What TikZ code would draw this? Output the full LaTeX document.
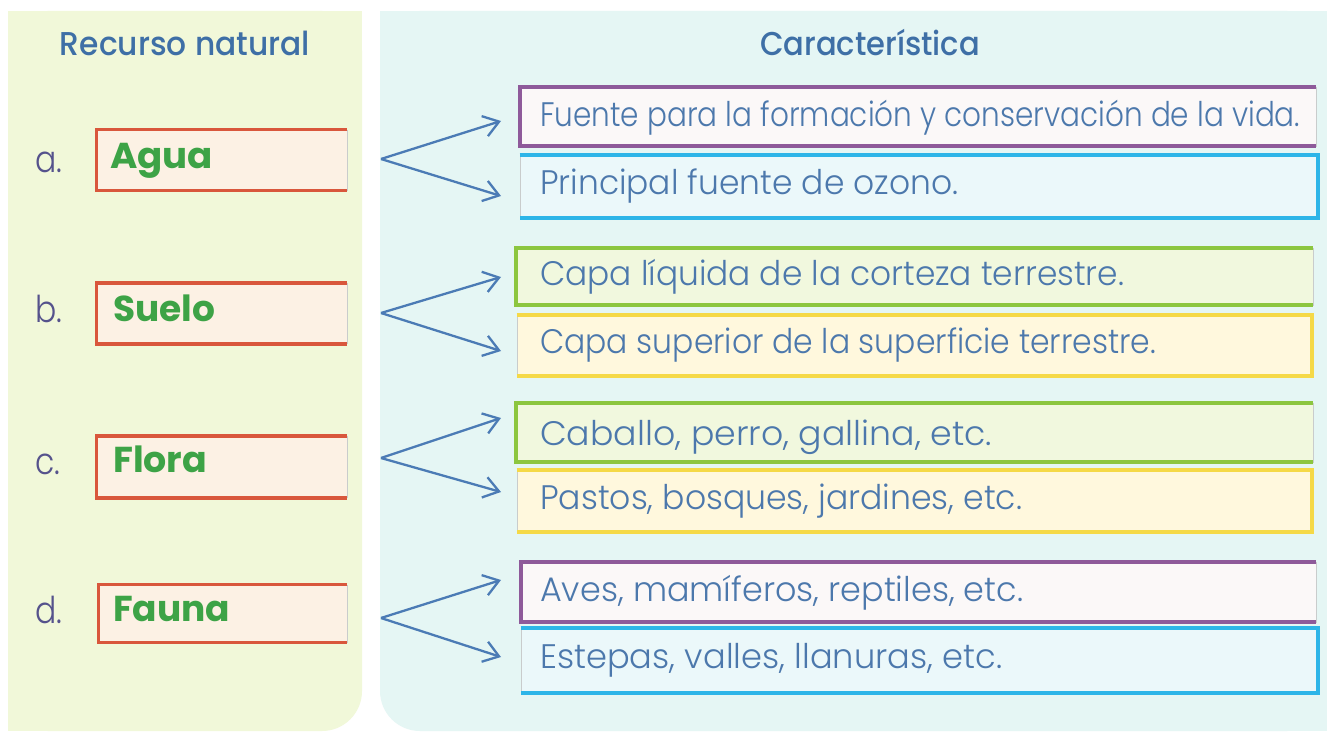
\documentclass[tikz,border=0pt]{standalone}
\usepackage{fontspec}
\setmainfont{Poppins}
\newfontfamily\lightf{Poppins Light}
\newfontfamily\medf{Poppins Medium}
\usetikzlibrary{arrows.meta}
\definecolor{leftpanel}{HTML}{F1F8D9}
\definecolor{rightpanel}{HTML}{E5F6F4}
\definecolor{titleblue}{HTML}{3E6FA6}
\definecolor{textblue}{HTML}{4C78AC}
\definecolor{letterc}{HTML}{55528C}
\definecolor{labelgreen}{HTML}{3DA346}
\definecolor{redb}{HTML}{D9573C}
\definecolor{creamf}{HTML}{FCF1E4}
\definecolor{arrowc}{HTML}{4B7BB5}
\definecolor{purpb}{HTML}{8E5A9A}
\definecolor{purpf}{HTML}{FBF8F8}
\definecolor{blueb}{HTML}{2DB5E8}
\definecolor{bluef}{HTML}{EBF8FA}
\definecolor{greenb}{HTML}{8CC63F}
\definecolor{greenf}{HTML}{F1F8DE}
\definecolor{yellowb}{HTML}{F5D947}
\definecolor{yellowf}{HTML}{FFF8DD}
\definecolor{faint}{HTML}{C9CCCC}
\tikzset{
  lbox/.style={draw=faint, line width=0.8pt, fill=creamf, minimum width=250pt, minimum height=60pt, inner sep=0pt},
  rbox/.style={draw=faint, line width=0.8pt, minimum width=796pt, minimum height=60pt, inner sep=0pt},
  arr/.style={draw=arrowc, line width=2.3pt, -{Straight Barb[length=15pt,width=21pt,line width=2.3pt]}},
  rtext/.style={anchor=base west, inner sep=0pt, text=textblue, font=\lightf\fontsize{34}{38}\selectfont},
  ltext/.style={anchor=base west, inner sep=0pt, text=labelgreen, font=\fontsize{36}{40}\selectfont\bfseries},
  letter/.style={anchor=base west, inner sep=0pt, text=letterc, font=\lightf\fontsize{37}{40}\selectfont},
  title/.style={anchor=base, inner sep=0pt, text=titleblue, font=\medf\fontsize{33}{36}\selectfont},
}
\newcommand{\fitw}[2]{\resizebox{#1pt}{\height}{#2}}
\begin{document}
\begin{tikzpicture}[x=1pt,y=-1pt]
\useasboundingbox (0,0) rectangle (1327,733);
\fill[white] (0,0) rectangle (1327,733);
% panels
\fill[leftpanel, rounded corners=40pt] (8,11) rectangle (362,731);
\fill[leftpanel] (8,11) rectangle (362,400);
\fill[leftpanel] (8,11) rectangle (200,731);
\fill[rightpanel, rounded corners=40pt] (380,11) rectangle (1327,731);
\fill[rightpanel] (380,11) rectangle (1327,400);
\fill[rightpanel] (700,11) rectangle (1327,731);
% titles
\node[title] (t1) at (185,56) {\fitw{250}{Recurso natural}};
\node[title] (t2) at (870,56) {\fitw{220}{Característica}};
% left boxes
\node[lbox] (la) at (222,160) {};
\node[lbox] (lb) at (222,313.5) {};
\node[lbox,minimum height=61pt] (lc) at (222,467) {};
\node[lbox,minimum width=248pt,minimum height=57pt] (ld) at (223,613.5) {};
\foreach \n in {la,lb,lc,ld}{
  \draw[redb,line width=3.5pt,line join=miter] (\n.north east) -- (\n.north west) -- (\n.south west) -- (\n.south east);
}
\node[ltext] (wa) at (110,168) {\fitw{103}{Agua}};
\node[ltext] (wb) at (113,321) {\fitw{102}{Suelo}};
\node[ltext] (wc) at (113,472) {\fitw{94}{Flora}};
\node[ltext] (wd) at (113,621) {\fitw{117}{Fauna}};
\node[letter] (ka) at (35,172) {\fitw{27}{a.}};
\node[letter] (kb) at (35,322) {\fitw{27}{b.}};
\node[letter] (kc) at (35,474) {\fitw{25}{c.}};
\node[letter] (kd) at (35,623) {\fitw{27}{d.}};
% right boxes
\node[rbox,fill=purpf,minimum height=59pt] (r1) at (918,116.5) {};
\node[rbox,fill=bluef,minimum height=63pt,minimum width=798pt] (r2) at (919,186.5) {};
\node[rbox,fill=greenf,minimum height=57pt,minimum width=797pt] (r3) at (914.5,276.5) {};
\node[rbox,fill=yellowf,minimum height=61pt,minimum width=795pt] (r4) at (914.5,345.5) {};
\node[rbox,fill=greenf,minimum height=59pt,minimum width=797pt] (r5) at (914.5,432.5) {};
\node[rbox,fill=yellowf,minimum height=62pt,minimum width=795pt] (r6) at (914.5,501) {};
\node[rbox,fill=purpf,minimum height=60pt,minimum width=795pt] (r7) at (918.5,592) {};
\node[rbox,fill=bluef,minimum height=65pt,minimum width=797pt] (r8) at (919.5,660.5) {};
\draw[purpb,line width=4pt] (r1.north east) -- (r1.north west) -- (r1.south west) -- (r1.south east);
\draw[blueb,line width=4pt] (r2.north west) -- (r2.north east) -- (r2.south east) -- (r2.south west);
\draw[greenb,line width=4pt] (r3.north east) -- (r3.north west) -- (r3.south west) -- (r3.south east);
\draw[yellowb,line width=4pt] (r4.north west) -- (r4.north east) -- (r4.south east) -- (r4.south west);
\draw[greenb,line width=4pt] (r5.north east) -- (r5.north west) -- (r5.south west) -- (r5.south east);
\draw[yellowb,line width=4pt] (r6.north west) -- (r6.north east) -- (r6.south east) -- (r6.south west);
\draw[purpb,line width=4pt] (r7.north east) -- (r7.north west) -- (r7.south west) -- (r7.south east);
\draw[blueb,line width=4pt] (r8.north west) -- (r8.north east) -- (r8.south east) -- (r8.south west);
% right texts
\node[rtext] (s1) at (540,127) {\fitw{760}{Fuente para la formación y conservación de la vida.}};
\node[rtext] (s2) at (540,194) {\fitw{418}{Principal fuente de ozono.}};
\node[rtext] (s3) at (540,285) {\fitw{584}{Capa líquida de la corteza terrestre.}};
\node[rtext] (s4) at (540,353) {\fitw{616}{Capa superior de la superficie terrestre.}};
\node[rtext] (s5) at (540,445) {\fitw{452}{Caballo, perro, gallina, etc.}};
\node[rtext] (s6) at (540,509) {\fitw{482}{Pastos, bosques, jardines, etc.}};
\node[rtext] (s7) at (540,601) {\fitw{483}{Aves, mamíferos, reptiles, etc.}};
\node[rtext] (s8) at (540,668) {\fitw{462}{Estepas, valles, llanuras, etc.}};
% arrows
\coordinate (fa) at (381,159);
\coordinate (fb) at (381,313);
\coordinate (fc) at (381,458);
\coordinate (fd) at (381,618);
\coordinate (ta1) at (501,121);
\coordinate (ta2) at (501,196);
\coordinate (tb1) at (501,277);
\coordinate (tb2) at (501,351);
\coordinate (tc1) at (501,418);
\coordinate (tc2) at (501,492);
\coordinate (td1) at (501,580);
\coordinate (td2) at (501,657);
\draw[arr] (fa) -- (ta1);
\draw[arr] (fa) -- (ta2);
\draw[arr] (fb) -- (tb1);
\draw[arr] (fb) -- (tb2);
\draw[arr] (fc) -- (tc1);
\draw[arr] (fc) -- (tc2);
\draw[arr] (fd) -- (td1);
\draw[arr] (fd) -- (td2);
\end{tikzpicture}
\end{document}
